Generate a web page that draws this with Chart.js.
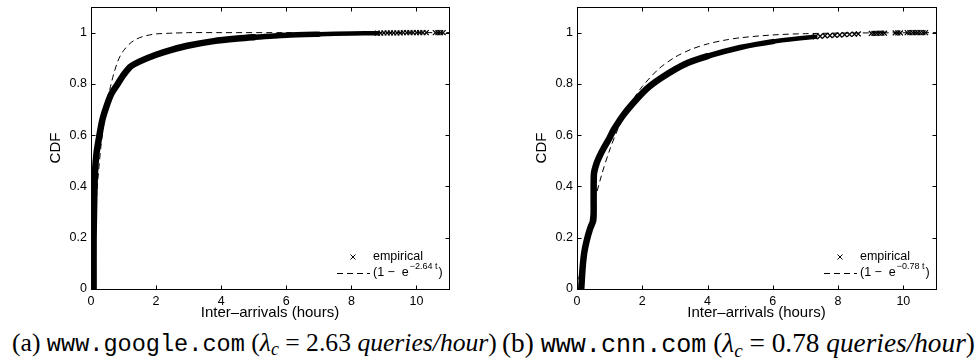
<!DOCTYPE html>
<html><head><meta charset="utf-8">
<script src="https://cdn.jsdelivr.net/npm/chart.js@4"></script>
<style>
html,body{margin:0;padding:0;background:#fff;width:980px;height:358px;overflow:hidden;position:relative}
canvas{position:absolute;top:0}
#ca{left:0}
#cb{left:486px}
.cap{position:absolute;top:328px;white-space:nowrap;font-family:"Liberation Serif","DejaVu Serif",serif;font-size:19px;line-height:1.15;color:#000}
#capa{left:12px}
#capb{left:502px}
.tt{font-family:"Liberation Mono","DejaVu Sans Mono",monospace;font-size:0.92em}
.it{font-style:italic}
sub{font-size:0.7em;vertical-align:-0.25em;line-height:0}
</style></head><body>
<canvas id="ca" width="470" height="322"></canvas>
<canvas id="cb" width="470" height="322"></canvas>
<div id="capa" class="cap">(a) <span class="tt">www.google.com</span> (<span class="it">λ<sub>c</sub></span> = 2.63 <span class="it">queries/hour</span>)</div>
<div id="capb" class="cap">(b) <span class="tt">www.cnn.com</span> (<span class="it">λ<sub>c</sub></span> = 0.78 <span class="it">queries/hour</span>)</div>
<script>
// ---------- data ----------
const xTickValues = [0, 2, 4, 6, 8, 10];
const xTickLabels = ['0', '2', '4', '6', '8', '10'];
const yTickValues = [0, 0.2, 0.4, 0.6, 0.8, 1];
const yTickLabels = ['0', '0.2', '0.4', '0.6', '0.8', '1'];
const xAxisTitle = 'Inter–arrivals (hours)';
const yAxisTitle = 'CDF';
const empiricalLabel = 'empirical';

// www.google.com empirical CDF (dense part, then thinner part)
const googleBandX = [0.08, 0.08, 0.09, 0.10, 0.12, 0.17, 0.26, 0.35, 0.47, 0.62, 0.82, 1.0, 1.2, 1.5, 2.0, 2.5, 3.0, 3.77, 4.5, 5.0, 6.0];
const googleBandY = [0.00, 0.20, 0.28, 0.35, 0.45, 0.53, 0.60, 0.66, 0.71, 0.76, 0.80, 0.835, 0.866, 0.888, 0.914, 0.934, 0.950, 0.967, 0.977, 0.982, 0.990];
const googleThinX = [7.0, 8.0, 8.8];
const googleThinY = [0.994, 0.997, 0.998];
const googleTailX = [8.8, 8.9, 9.0, 9.1, 9.2, 9.3, 9.4, 9.5, 9.6, 9.7, 9.8, 9.9, 10.0, 10.1, 10.2, 10.3, 10.58, 10.66, 10.74, 10.82];
const googleTailY = [0.998, 0.998, 0.999, 0.999, 0.999, 0.999, 0.999, 0.999, 1, 1, 1, 1, 1, 1, 1, 1, 1, 1, 1, 1];
// fitted exponential (dashed)
const googleFitX = [0, 0.1, 0.2, 0.3, 0.4, 0.5, 0.6, 0.7, 0.8, 0.9, 1.0, 1.2, 1.4, 1.6, 1.8, 2.0, 2.5, 3.0, 4.0, 6.0, 8.0, 11.0];
const googleFitY = [0, 0.23, 0.41, 0.55, 0.65, 0.73, 0.79, 0.84, 0.88, 0.91, 0.93, 0.958, 0.975, 0.985, 0.991, 0.995, 0.998, 1, 1, 1, 1, 1];
const googleFitExp = '−2.64 t';

// www.cnn.com empirical CDF
const cnnBandX = [0.13, 0.17, 0.22, 0.30, 0.40, 0.50, 0.51, 0.52, 0.60, 0.70, 0.80, 1.0, 1.12, 1.43, 1.84, 2.2, 2.66, 3.27, 4.0, 5.0];
const cnnBandY = [0.00, 0.08, 0.14, 0.19, 0.235, 0.27, 0.36, 0.45, 0.49, 0.52, 0.545, 0.59, 0.62, 0.68, 0.742, 0.788, 0.830, 0.875, 0.908, 0.942];
const cnnThinX = [6.0, 7.0, 7.3];
const cnnThinY = [0.965, 0.980, 0.984];
const cnnTailX = [7.3, 7.45, 7.6, 7.75, 7.9, 8.05, 8.2, 8.35, 8.5, 8.62, 9.02, 9.1, 9.18, 9.26, 9.34, 9.42, 9.75, 9.83, 9.91, 10.12, 10.2, 10.28, 10.36, 10.44, 10.52, 10.6, 10.68];
const cnnTailY = [0.984, 0.986, 0.988, 0.989, 0.990, 0.991, 0.992, 0.993, 0.994, 0.995, 0.997, 0.997, 0.997, 0.998, 0.998, 0.998, 0.999, 0.999, 0.999, 1, 1, 1, 1, 1, 1, 1, 1];
const cnnFitX = [0, 0.25, 0.5, 0.75, 1.0, 1.25, 1.5, 1.75, 2.0, 2.5, 3.0, 3.5, 4.0, 4.5, 5.0, 6.0, 7.0, 8.0, 9.0, 11.0];
const cnnFitY = [0, 0.177, 0.323, 0.443, 0.542, 0.623, 0.690, 0.745, 0.790, 0.858, 0.904, 0.935, 0.956, 0.970, 0.980, 0.991, 0.996, 0.998, 0.999, 1];
const cnnFitExp = '−0.78 t';

// ---------- helpers ----------
const zip = (xs, ys) => xs.map((v, i) => ({x: v, y: ys[i]}));
const sans = '"Liberation Sans", Arial, Helvetica, sans-serif';

const decor = {
  id: 'decor',
  afterDatasetsDraw(chart, args, opts) {
    const {ctx, chartArea: a, scales: {x, y}} = chart;
    ctx.save();
    ctx.strokeStyle = '#000';
    ctx.lineWidth = 1;
    const L = Math.round(a.left) + 0.5, T = Math.round(a.top) + 0.5;
    const R = Math.round(a.right) + 0.5, B = Math.round(a.bottom) + 0.5;
    ctx.strokeRect(L, T, R - L, B - T);
    const tl = 4;
    ctx.beginPath();
    x.ticks.forEach(t => {
      const px = Math.round(x.getPixelForValue(t.value)) + 0.5;
      ctx.moveTo(px, B); ctx.lineTo(px, B - tl);
      ctx.moveTo(px, T); ctx.lineTo(px, T + tl);
    });
    y.ticks.forEach(t => {
      const py = Math.round(y.getPixelForValue(t.value)) + 0.5;
      ctx.moveTo(L, py); ctx.lineTo(L + tl, py);
      ctx.moveTo(R, py); ctx.lineTo(R - tl, py);
    });
    ctx.stroke();

    // legend inside the plot, bottom right
    const r = a.right, b = a.bottom;
    const cx = r - 96, cy = b - 32;
    ctx.beginPath();
    ctx.moveTo(cx - 2.5, cy - 2.5); ctx.lineTo(cx + 2.5, cy + 2.5);
    ctx.moveTo(cx + 2.5, cy - 2.5); ctx.lineTo(cx - 2.5, cy + 2.5);
    ctx.stroke();
    ctx.fillStyle = '#000';
    ctx.textBaseline = 'middle';
    ctx.textAlign = 'left';
    ctx.font = '12.5px ' + sans;
    ctx.fillText(empiricalLabel, r - 76, cy);
    const ly = b - 16;
    ctx.setLineDash([6, 4]);
    ctx.beginPath();
    ctx.moveTo(r - 112, ly + 0.5); ctx.lineTo(r - 79, ly + 0.5);
    ctx.stroke();
    ctx.setLineDash([]);
    let tx = r - 76;
    const part1 = '(1 −  e';
    ctx.fillText(part1, tx, ly);
    tx += ctx.measureText(part1).width + 1;
    ctx.font = '9px ' + sans;
    ctx.fillText(opts.exp, tx, ly - 6);
    tx += ctx.measureText(opts.exp).width + 1;
    ctx.font = '12.5px ' + sans;
    ctx.fillText(')', tx, ly);
    ctx.restore();
  }
};

function makeChart(id, bandX, bandY, thinX, thinY, tailX, tailY, fitX, fitY, fitExp, rightPad) {
  const empX = bandX.concat(thinX), empY = bandY.concat(thinY);
  const nBand = bandX.length;
  return new Chart(document.getElementById(id), {
    type: 'line',
    data: {
      datasets: [
        {data: zip(fitX, fitY), borderColor: '#000', borderWidth: 1, borderDash: [6, 4], pointRadius: 0, tension: 0.3, fill: false},
        {data: zip(empX, empY), borderColor: '#000', borderWidth: 6.5, pointRadius: 0, tension: 0.25, fill: false,
         borderCapStyle: 'round', borderJoinStyle: 'round',
         segment: {borderWidth: c => c.p0DataIndex < nBand - 2 ? 6.5 : (c.p0DataIndex < nBand ? 5.5 : 4.5)}},
        {data: zip(tailX, tailY), showLine: false, pointStyle: 'crossRot', pointRadius: 3.5, pointBorderWidth: 1.3, pointBorderColor: '#000', pointBackgroundColor: '#000'}
      ]
    },
    options: {
      responsive: false,
      devicePixelRatio: 1,
      animation: false,
      events: [],
      layout: {padding: {left: 0, right: rightPad, top: 7, bottom: 0}},
      plugins: {legend: {display: false}, tooltip: {enabled: false}, decor: {exp: fitExp}},
      scales: {
        x: {
          type: 'linear', min: 0, max: 11,
          grid: {display: false, drawTicks: false},
          border: {display: false},
          afterBuildTicks: s => { s.ticks = xTickValues.map(v => ({value: v})); },
          afterFit: s => { s.height = 33; s.paddingLeft = 0; s.paddingRight = 0; },
          ticks: {color: '#000', font: {family: sans, size: 12.5}, padding: 5, maxRotation: 0, autoSkip: false,
                  callback: (v, i) => xTickLabels[i]},
          title: {display: true, text: xAxisTitle, color: '#000', font: {family: sans, size: 15}, padding: {top: 0, bottom: 0}}
        },
        y: {
          type: 'linear', min: 0, max: 1.1,
          grid: {display: false, drawTicks: false},
          border: {display: false},
          afterBuildTicks: s => { s.ticks = yTickValues.map(v => ({value: v})); },
          afterFit: s => { s.width = 91; s.paddingTop = 0; s.paddingBottom = 0; },
          ticks: {color: '#000', font: {family: sans, size: 12.5}, padding: 4, autoSkip: false,
                  callback: (v, i) => yTickLabels[i]},
          title: {display: true, text: yAxisTitle, color: '#000', font: {family: sans, size: 15}, padding: {top: 47, bottom: 0}}
        }
      }
    },
    plugins: [decor]
  });
}

makeChart('ca', googleBandX, googleBandY, googleThinX, googleThinY, googleTailX, googleTailY, googleFitX, googleFitY, googleFitExp, 21);
makeChart('cb', cnnBandX, cnnBandY, cnnThinX, cnnThinY, cnnTailX, cnnTailY, cnnFitX, cnnFitY, cnnFitExp, 20);

// fit each caption half to the reference width
[['capa', 485], ['capb', 473]].forEach(([id, target]) => {
  const el = document.getElementById(id);
  const w = el.getBoundingClientRect().width;
  el.style.fontSize = (19 * target / w).toFixed(2) + 'px';
});
</script>
</body></html>
